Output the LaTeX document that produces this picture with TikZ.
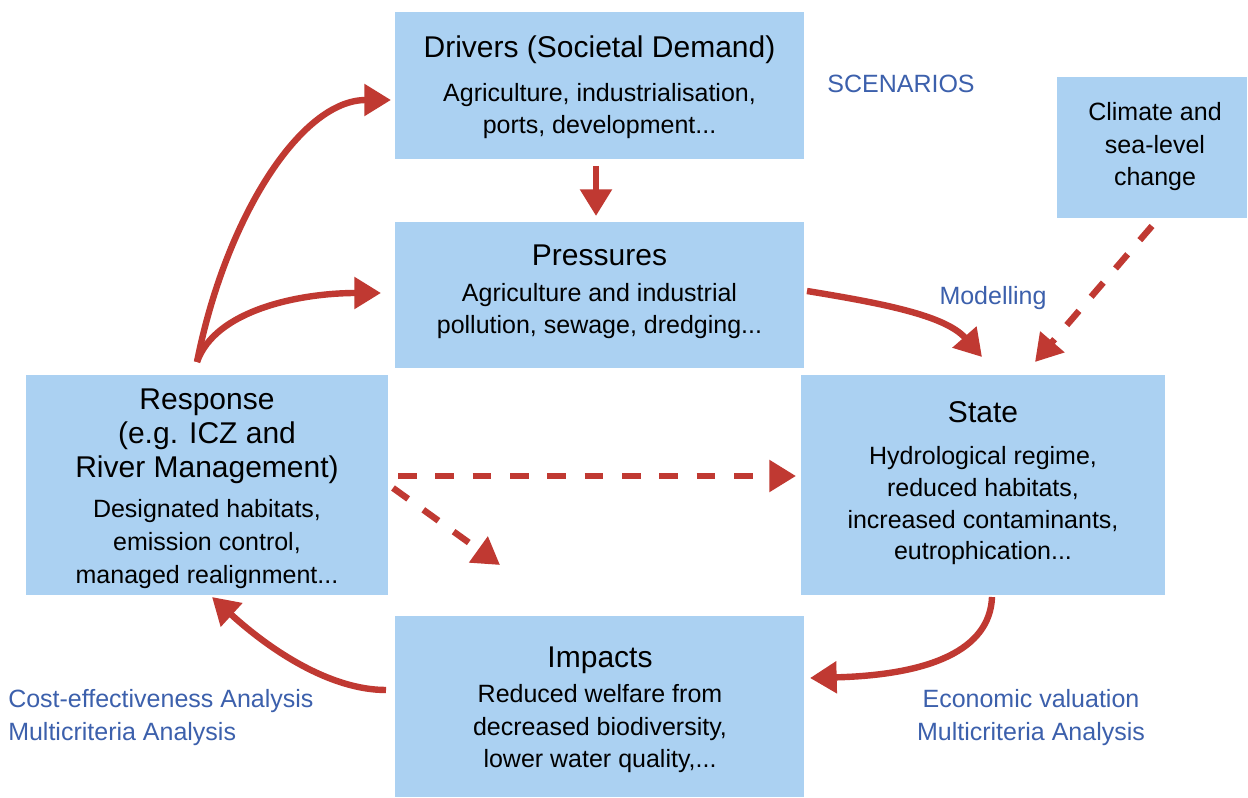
\documentclass[tikz,border=0pt]{standalone}
\usepackage{fontspec}
\setmainfont{Liberation Sans}
\usetikzlibrary{arrows.meta}
\definecolor{boxblue}{RGB}{171,209,242}
\definecolor{arrred}{RGB}{192,57,50}
\definecolor{labblue}{RGB}{60,96,172}
\begin{document}
\begin{tikzpicture}[x=0.75pt,y=-0.75pt,
  box/.style={draw=none,fill=boxblue,inner sep=0pt},
  ttl/.style={anchor=base,inner sep=0pt,font=\fontsize{22.5}{27}\selectfont},
  bdy/.style={anchor=base,inner sep=0pt,font=\fontsize{18.75}{24}\selectfont},
  lab/.style={anchor=base,inner sep=0pt,text=labblue,font=\fontsize{18.75}{24}\selectfont},
  arr/.style={draw=arrred,line width=4.8pt,-{Triangle[length=20pt,width=23pt]}},
  darr/.style={arr,dash pattern=on 14pt off 14pt}]
\useasboundingbox (0,0) rectangle (1248,798);
\fill[white] (0,0) rectangle (1248,798);
% boxes
\node[box,minimum width=409*0.75pt,minimum height=147*0.75pt] (drv) at (599.5,85.5) {};
\node[box,minimum width=409*0.75pt,minimum height=146*0.75pt] (prs) at (599.5,295) {};
\node[box,minimum width=190*0.75pt,minimum height=141*0.75pt] (clim) at (1152,147.5) {};
\node[box,minimum width=362*0.75pt,minimum height=220*0.75pt] (resp) at (207,485) {};
\node[box,minimum width=364*0.75pt,minimum height=220*0.75pt] (state) at (983,485) {};
\node[box,minimum width=409*0.75pt,minimum height=181*0.75pt] (imp) at (599.5,706.5) {};
% texts
\node[ttl] (drvT) at (599.5,58) {Drivers (Societal Demand)};
\node[bdy] (drvB1) at (599.5,102) {Agriculture, industrialisation,};
\node[bdy] (drvB2) at (599.5,134) {ports, development...};
\node[ttl] (prsT) at (599.5,266) {Pressures};
\node[bdy] (prsB1) at (599.5,302) {Agriculture and industrial};
\node[bdy] (prsB2) at (599.5,334) {pollution, sewage, dredging...};
\node[bdy] (climB1) at (1155,121) {Climate and};
\node[bdy] (climB2) at (1155,154) {sea-level};
\node[bdy] (climB3) at (1155,186) {change};
\node[ttl] (respT1) at (207,409) {Response};
\node[ttl] (respT2) at (207,443) {(e.g. ICZ and};
\node[ttl] (respT3) at (207,477) {River Management)};
\node[bdy] (respB1) at (207,517) {Designated habitats,};
\node[bdy] (respB2) at (207,550) {emission control,};
\node[bdy] (respB3) at (207,583) {managed realignment...};
\node[ttl] (stT) at (983,422) {State};
\node[bdy] (stB1) at (983,464) {Hydrological regime,};
\node[bdy] (stB2) at (983,496) {reduced habitats,};
\node[bdy] (stB3) at (983,528) {increased contaminants,};
\node[bdy] (stB4) at (983,559) {eutrophication...};
\node[ttl] (impT) at (600,667) {Impacts};
\node[bdy] (impB1) at (600,702) {Reduced welfare from};
\node[bdy] (impB2) at (600,735) {decreased biodiversity,};
\node[bdy] (impB3) at (600,767) {lower water quality,...};
% labels
\node[lab] (scen) at (901,93) {SCENARIOS};
\node[lab] (model) at (993,305) {Modelling};
\node[lab] (econ1) at (1031,707) {Economic valuation};
\node[lab] (econ2) at (1031,740) {Multicriteria Analysis};
\node[lab,anchor=base west] (cost1) at (8,707) {Cost-effectiveness Analysis};
\node[lab,anchor=base west] (cost2) at (8,740) {Multicriteria Analysis};
% connector end points
\coordinate (drvS) at (596,166);
\coordinate (prsN) at (596,216);
\coordinate (respN) at (197,362);
\coordinate (drvW) at (391,100);
\coordinate (prsW) at (381,293);
\coordinate (prsE) at (807,291);
\coordinate (stN) at (982,357);
\coordinate (stS) at (992,597);
\coordinate (impE) at (810,678);
\coordinate (impW) at (386,690);
\coordinate (respS) at (212,597);
\coordinate (respE) at (398,476);
\coordinate (stW) at (796,476);
\coordinate (respE2) at (393,488);
\coordinate (gap) at (500,565);
\coordinate (climS) at (1152,226);
\coordinate (stN2) at (1035,362);
% connectors
\draw[arr] (drvS) -- (prsN);
\draw[arr] (respN) .. controls (225,220) and (300,100) .. (drvW);
\draw[arr] (respN) .. controls (215,310) and (300,293) .. (prsW);
\draw[arr] (prsE) .. controls (880,303) and (945,315) .. (stN);
\draw[arr] (stS) .. controls (990,650) and (930,675) .. (impE);
\draw[arr] (impW) .. controls (330,690) and (270,650) .. (respS);
\draw[darr] (respE) -- (stW);
\draw[darr] (respE2) -- (gap);
\draw[darr] (climS) -- (stN2);
\end{tikzpicture}
\end{document}
